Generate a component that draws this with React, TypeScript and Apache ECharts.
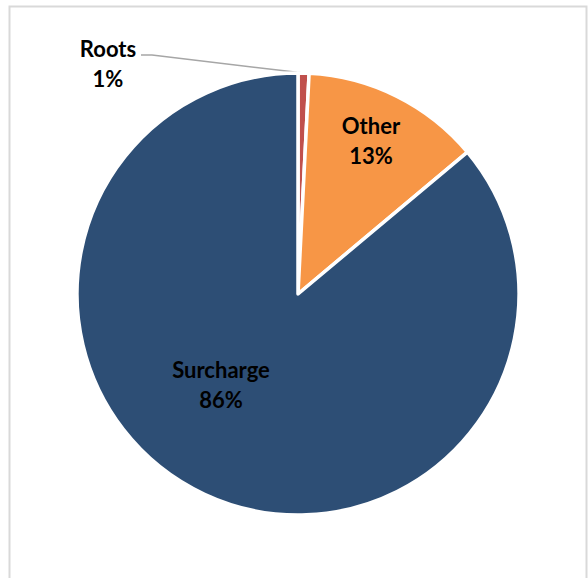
import React, { useEffect, useRef } from "react";
import * as echarts from "echarts";

const categories = ["Roots", "Other", "Surcharge"];
const shares = [0.8, 13.1, 86.1];
const sliceColors = ["#C0504D", "#F79646", "#2D4E75"];
// label anchor positions (styling only)
const labelPos = [
  [108, 63],
  [371, 140],
  [221, 384],
];

export default function App() {
  const ref = useRef<HTMLDivElement>(null);
  useEffect(() => {
    if (!ref.current) return;
    const chart = echarts.init(ref.current, null, { renderer: "svg" });
    const font = "Lato, 'Liberation Sans', sans-serif";
    chart.setOption({
      animation: false,
      backgroundColor: "#ffffff",
      graphic: [
        {
          type: "rect",
          shape: { x: 9.5, y: 6.5, width: 577, height: 620 },
          style: { fill: "none", stroke: "#d9d9d9", lineWidth: 2 },
          silent: true,
        },
      ],
      series: [
        {
          type: "pie",
          center: [298, 294],
          radius: 221,
          startAngle: 90,
          clockwise: true,
          percentPrecision: 0,
          itemStyle: { borderColor: "#ffffff", borderWidth: 3.5 },
          label: {
            show: true,
            position: "outside",
            formatter: "{b}\n{d}%",
            color: "#000000",
            fontFamily: font,
            fontWeight: "bold",
            fontSize: 22,
            lineHeight: 30,
            align: "center",
          },
          labelLine: {
            show: true,
            lineStyle: { color: "#a6a6a6", width: 1.5 },
          },
          labelLayout: (p: any) => {
            const [x, y] = labelPos[p.dataIndex];
            const res: any = { x, y, align: "center", verticalAlign: "middle" };
            if (p.dataIndex === 0 && p.labelLinePoints) {
              const start = p.labelLinePoints[0];
              res.labelLinePoints = [start, [152, 55], [141, 55]];
            }
            return res;
          },
          data: categories.map((name, i) => ({
            name,
            value: shares[i],
            itemStyle: { color: sliceColors[i] },
            labelLine: { show: i === 0 },
          })),
        },
      ],
    });
    return () => chart.dispose();
  }, []);
  return (
    <div
      ref={ref}
      style={{ position: "absolute", left: 0, top: 0, width: 588, height: 578 }}
    />
  );
}
